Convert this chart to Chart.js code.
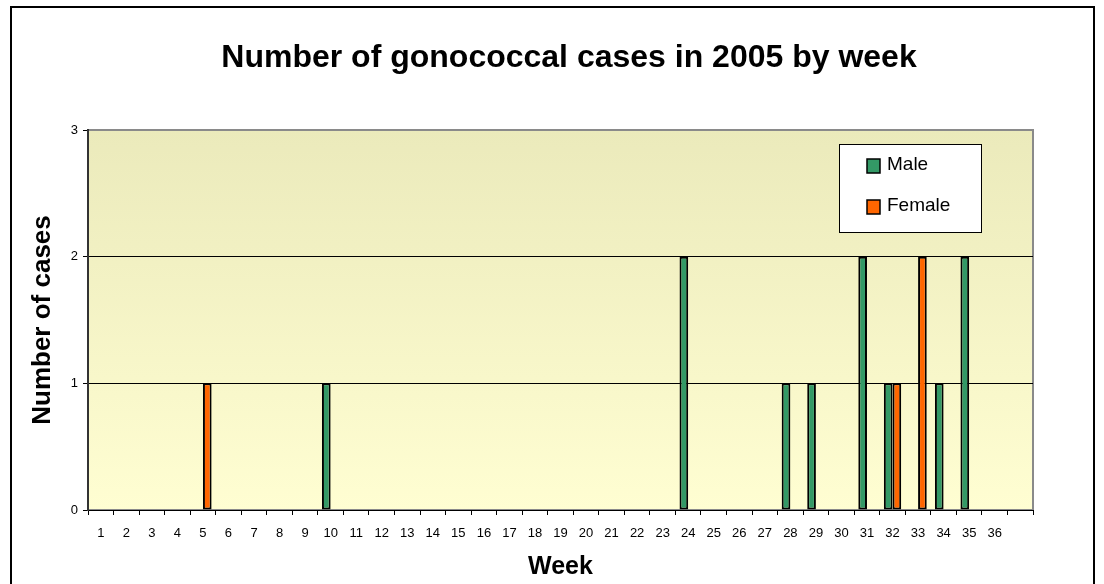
<!DOCTYPE html>
<html>
<head>
<meta charset="utf-8">
<script src="https://cdn.jsdelivr.net/npm/chart.js@4"></script>
<style>
  html, body { margin: 0; padding: 0; background: #fff; }
  #wrap { width: 1104px; height: 584px; position: relative; }
</style>
</head>
<body>
<div id="wrap"><canvas id="casesChart"></canvas></div>
<script>
// weeks 1..36, plus an empty trailing slot like the original sheet
const weeks = ['1','2','3','4','5','6','7','8','9','10','11','12','13','14','15','16','17','18',
  '19','20','21','22','23','24','25','26','27','28','29','30','31','32','33','34','35','36',''];
const male = [null,null,null,null,null,null,null,null,null,1,null,null,null,null,null,null,null,null,
  null,null,null,null,null,2,null,null,null,1,1,null,2,1,null,1,2,null,null];
const female = [null,null,null,null,1,null,null,null,null,null,null,null,null,null,null,null,null,null,
  null,null,null,null,null,null,null,null,null,null,null,null,null,1,2,null,null,null,null];
const yTicks = [0, 1, 2, 3];
const chartTitle = 'Number of gonococcal cases in 2005 by week';

const FONT = '"Liberation Sans", Arial, sans-serif';

// outer frame, title, plot background gradient
const backdrop = {
    id: 'backdrop',
    beforeDraw(chart) {
        const { ctx, chartArea: a } = chart;
        ctx.save();
        ctx.strokeStyle = '#000';
        ctx.lineWidth = 2;
        ctx.strokeRect(11, 7, 1083, 620);

        ctx.fillStyle = '#000';
        ctx.font = 'bold 32px ' + FONT;
        ctx.textAlign = 'center';
        ctx.textBaseline = 'middle';
        ctx.fillText(chartTitle, 569, 58);

        const g = ctx.createLinearGradient(0, a.top, 0, a.bottom);
        g.addColorStop(0, 'rgb(235,234,187)');
        g.addColorStop(1, 'rgb(255,254,210)');
        ctx.fillStyle = g;
        ctx.fillRect(a.left, a.top, a.right - a.left, a.bottom - a.top);
        ctx.strokeStyle = '#8a8a8a';
        ctx.lineWidth = 2;
        ctx.strokeRect(a.left, a.top, a.right - a.left, a.bottom - a.top);
        ctx.restore();
    }
};

// boxed legend inside the plot, top right
const boxLegend = {
    id: 'boxLegend',
    afterDraw(chart) {
        const { ctx } = chart;
        ctx.save();
        ctx.fillStyle = '#fff';
        ctx.fillRect(839, 144, 142, 88);
        ctx.strokeStyle = '#000';
        ctx.lineWidth = 1;
        ctx.strokeRect(839.5, 144.5, 142, 88);
        ctx.font = '19px ' + FONT;
        ctx.textBaseline = 'middle';
        chart.data.datasets.forEach((ds, i) => {
            const y = 166 + i * 41;
            ctx.fillStyle = ds.backgroundColor;
            ctx.fillRect(867, y - 7, 13, 14);
            ctx.strokeStyle = '#000';
            ctx.lineWidth = 1.5;
            ctx.strokeRect(867, y - 7, 13, 14);
            ctx.fillStyle = '#000';
            ctx.fillText(ds.label, 887, y - 1);
        });
        ctx.restore();
    }
};

new Chart(document.getElementById('casesChart'), {
    type: 'bar',
    data: {
        labels: weeks,
        datasets: [{
            label: 'Male',
            data: male,
            backgroundColor: '#339966',
            borderColor: '#000',
            borderWidth: 2,
            borderSkipped: false
        }, {
            label: 'Female',
            data: female,
            backgroundColor: '#ff6600',
            borderColor: '#000',
            borderWidth: 2,
            borderSkipped: false
        }]
    },
    options: {
        responsive: true,
        maintainAspectRatio: false,
        animation: false,
        categoryPercentage: 0.68,
        barPercentage: 1,
        layout: { padding: { left: 12, right: 71, top: 130, bottom: 0 } },
        plugins: {
            legend: { display: false },
            tooltip: { enabled: false },
            title: { display: false }
        },
        scales: {
            x: {
                afterFit: s => { s.height = 74; },
                grid: { drawOnChartArea: false, drawTicks: true, tickLength: 5, color: '#000' },
                border: { color: '#000', width: 1 },
                ticks: {
                    color: '#000', autoSkip: false, maxRotation: 0, padding: 11,
                    font: { family: FONT, size: 13 }
                },
                title: {
                    display: true, text: 'Week', color: '#000',
                    font: { family: FONT, size: 25, weight: 'bold' },
                    padding: { top: 0, bottom: 2 }
                }
            },
            y: {
                min: 0,
                max: 3,
                afterFit: s => { s.width = 76; },
                afterBuildTicks: s => { s.ticks = yTicks.map(v => ({ value: v })); },
                grid: {
                    color: c => c.tick && c.tick.value === 3 ? 'rgba(0,0,0,0)' : '#000',
                    tickColor: '#000',
                    tickLength: 5
                },
                border: { color: '#333', width: 2 },
                ticks: {
                    color: '#000', padding: 5,
                    font: { family: FONT, size: 13 }
                },
                title: {
                    display: true, text: 'Number of cases', color: '#000',
                    font: { family: FONT, size: 26, weight: 'bold' },
                    padding: { top: 15, bottom: 0 }
                }
            }
        }
    },
    plugins: [backdrop, boxLegend]
});
</script>
</body>
</html>
